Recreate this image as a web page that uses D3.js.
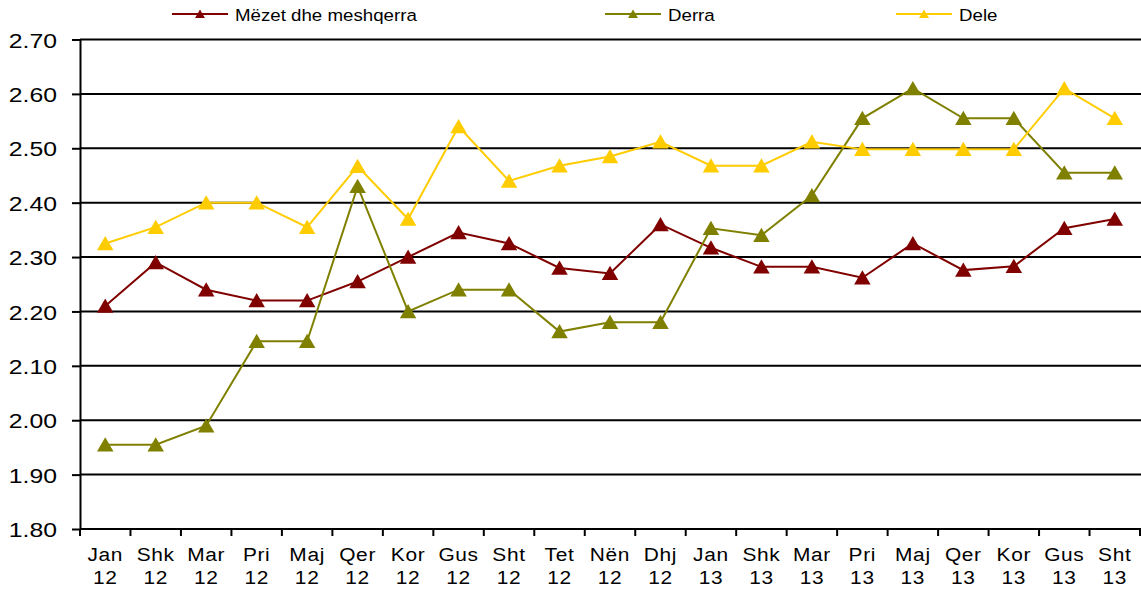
<!DOCTYPE html>
<html>
<head>
<meta charset="utf-8">
<script src="https://cdn.jsdelivr.net/npm/d3@7"></script>
<style>
  body { margin: 0; background: #fff; }
  svg { display: block; font-family: "Liberation Sans", Arial, sans-serif; }
</style>
</head>
<body>
<svg id="chart" width="1141" height="589"></svg>
<script>
// categories: month + year (two-line labels)
var months = ["Jan","Shk","Mar","Pri","Maj","Qer","Kor","Gus","Sht","Tet","Nën","Dhj",
              "Jan","Shk","Mar","Pri","Maj","Qer","Kor","Gus","Sht"];
var years  = ["12","12","12","12","12","12","12","12","12","12","12","12",
              "13","13","13","13","13","13","13","13","13"];

var mezet = [2.21,2.29,2.24,2.22,2.22,2.255,2.30,2.345,2.325,2.28,2.27,2.36,
             2.317,2.282,2.282,2.262,2.325,2.276,2.283,2.353,2.37];
var derra = [1.955,1.955,1.99,2.145,2.145,2.43,2.20,2.24,2.24,2.163,2.18,2.18,
             2.353,2.34,2.413,2.555,2.61,2.555,2.555,2.455,2.455];
var dele  = [2.325,2.355,2.40,2.40,2.355,2.467,2.37,2.54,2.44,2.468,2.485,2.512,
             2.468,2.468,2.512,2.498,2.498,2.498,2.498,2.61,2.555];

var seriesNames = ["Mëzet dhe meshqerra", "Derra", "Dele"];
var yTicks = [1.80,1.90,2.00,2.10,2.20,2.30,2.40,2.50,2.60,2.70];

var series = [
  { name: seriesNames[0], values: mezet, color: "#800000", lx: 172 },
  { name: seriesNames[1], values: derra, color: "#808000", lx: 605 },
  { name: seriesNames[2], values: dele,  color: "#FFCC00", lx: 896 }
];

var svg = d3.select("#chart");
var plotLeft = 80, plotRight = 1140, plotTop = 39.5, plotBottom = 529;

var cats = months.map(function(m, i) { return i; });
var x = d3.scaleBand().domain(cats).range([plotLeft, plotRight]);
var y = d3.scaleLinear().domain([1.8, 2.7]).range([plotBottom, plotTop]);
var cx = function(i) { return x(i) + x.bandwidth() / 2; };

// gridlines
svg.append("g")
  .selectAll("line")
  .data(yTicks.slice(1))
  .enter().append("line")
    .attr("x1", plotLeft).attr("x2", 1141)
    .attr("y1", function(d) { return y(d); })
    .attr("y2", function(d) { return y(d); })
    .attr("stroke", "#000")
    .attr("stroke-width", 2);

// y axis
var yAxis = svg.append("g")
  .attr("transform", "translate(" + plotLeft + ",0)")
  .call(d3.axisLeft(y).tickValues(yTicks).tickFormat(d3.format(".2f")).tickSize(8).tickSizeOuter(0));
yAxis.select(".domain").attr("stroke", "#000").attr("stroke-width", 2);
yAxis.selectAll(".tick line").attr("stroke", "#000").attr("stroke-width", 2);
yAxis.selectAll(".tick text")
  .attr("x", 0)
  .attr("dy", "0.36em")
  .attr("transform", "translate(-23,0) scale(1.18,1)")
  .attr("font-size", 21)
  .attr("font-family", "Liberation Sans, Arial, sans-serif")
  .attr("fill", "#000");

// x axis (ticks at band boundaries)
var bounds = d3.range(cats.length + 1).map(function(i) { return plotLeft + i * x.bandwidth(); });
var xg = svg.append("g");
xg.append("line")
  .attr("x1", plotLeft).attr("x2", 1141)
  .attr("y1", plotBottom).attr("y2", plotBottom)
  .attr("stroke", "#000").attr("stroke-width", 2);
xg.selectAll("line.tk")
  .data(bounds)
  .enter().append("line")
    .attr("class", "tk")
    .attr("x1", function(d) { return d; }).attr("x2", function(d) { return d; })
    .attr("y1", plotBottom).attr("y2", plotBottom + 7)
    .attr("stroke", "#000").attr("stroke-width", 2);

var lab = xg.selectAll("g.lab")
  .data(cats)
  .enter().append("g")
    .attr("class", "lab")
    .attr("transform", function(d) { return "translate(" + cx(d) + ",0) scale(1.1,1)"; });
lab.append("text")
  .attr("y", 561)
  .attr("text-anchor", "middle")
  .attr("font-size", 19)
  .attr("letter-spacing", 0.6)
  .text(function(d) { return months[d]; });
lab.append("text")
  .attr("y", 584)
  .attr("text-anchor", "middle")
  .attr("font-size", 19)
  .attr("letter-spacing", 0.6)
  .text(function(d) { return years[d]; });

// triangle marker
function tri(s) {
  return "M0," + (-s * 0.5) + "L" + (s * 0.55) + "," + (s * 0.45) + "L" + (-s * 0.55) + "," + (s * 0.45) + "Z";
}

var line = d3.line()
  .x(function(d, i) { return cx(i); })
  .y(function(d) { return y(d); });

series.forEach(function(s) {
  var g = svg.append("g");
  g.append("path")
    .datum(s.values)
    .attr("d", line)
    .attr("fill", "none")
    .attr("stroke", s.color)
    .attr("stroke-width", 2);
  g.selectAll("path.mk")
    .data(s.values)
    .enter().append("path")
      .attr("class", "mk")
      .attr("d", tri(15))
      .attr("transform", function(d, i) { return "translate(" + cx(i) + "," + y(d) + ")"; })
      .attr("fill", s.color);
});

// legend
var lg = svg.append("g")
  .selectAll("g")
  .data(series)
  .enter().append("g")
    .attr("transform", function(d) { return "translate(" + d.lx + ",14)"; });
lg.append("line")
  .attr("x1", 0).attr("x2", 56)
  .attr("stroke", function(d) { return d.color; })
  .attr("stroke-width", 2);
lg.append("path")
  .attr("d", tri(9))
  .attr("transform", "translate(28,0)")
  .attr("fill", function(d) { return d.color; });
lg.append("text")
  .attr("x", 63)
  .attr("y", 7)
  .attr("font-size", 17)
  .attr("transform", "translate(63,0) scale(1.1,1) translate(-63,0)")
  .attr("fill", "#000")
  .text(function(d) { return d.name; });
</script>
</body>
</html>
